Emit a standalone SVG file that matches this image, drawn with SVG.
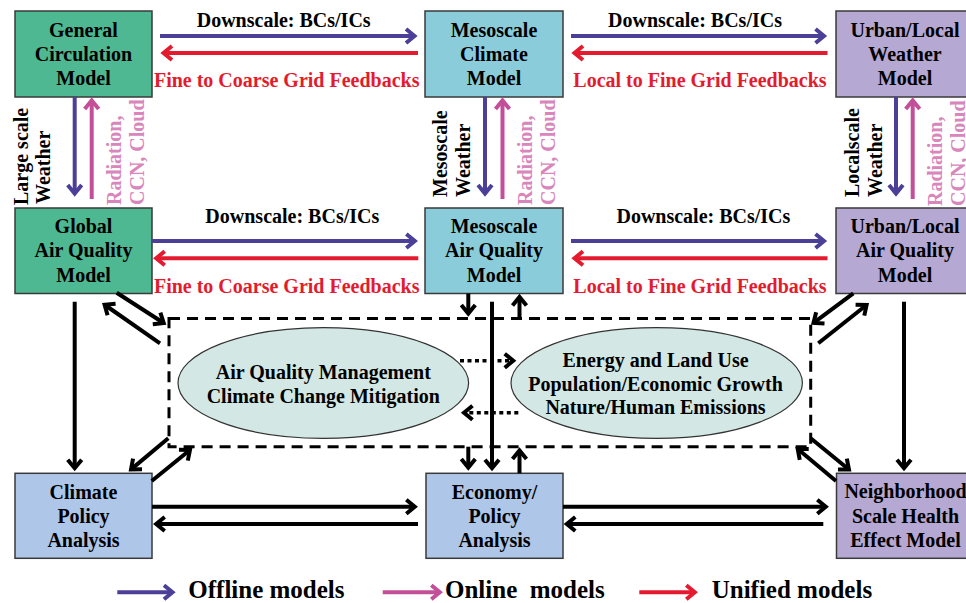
<svg xmlns="http://www.w3.org/2000/svg" width="966" height="603" viewBox="0 0 966 603">
<style>
text{font-family:"Liberation Serif","Times New Roman",serif;font-weight:bold;font-size:20px;}
.box{stroke:#3a3a3a;stroke-width:1.5;}
.green{fill:#4DB891;}
.cyan{fill:#8BCCDB;}
.purple{fill:#B5A8D2;}
.lblue{fill:#AEC6E8;}
.ell{fill:#D3E8E4;stroke:#333;stroke-width:1.2;}
.c{text-anchor:middle;}
.red{fill:#E41B2E;}
.pinkt{fill:#D886BC;}
.ln{fill:none;stroke-width:4;}
.b{stroke:#4B3F98;}
.r{stroke:#E41B2E;}
.p{stroke:#C24F98;}
.k{stroke:#000;}
.dot{stroke-dasharray:4 3.5;stroke-width:3.5;}
.leg{font-size:25px;white-space:pre;}
</style>
<defs>
<marker id="mb" viewBox="-16 -10 20 20" markerWidth="20" markerHeight="20" markerUnits="userSpaceOnUse" refX="-4" refY="0" orient="auto"><path d="M-12,-7 L-3.5,0 L-12,7" fill="none" stroke="#4B3F98" stroke-width="4"/></marker>
<marker id="mr" viewBox="-16 -10 20 20" markerWidth="20" markerHeight="20" markerUnits="userSpaceOnUse" refX="-4" refY="0" orient="auto"><path d="M-12,-7 L-3.5,0 L-12,7" fill="none" stroke="#E41B2E" stroke-width="4"/></marker>
<marker id="mp" viewBox="-16 -10 20 20" markerWidth="20" markerHeight="20" markerUnits="userSpaceOnUse" refX="-4" refY="0" orient="auto"><path d="M-12,-7 L-3.5,0 L-12,7" fill="none" stroke="#C24F98" stroke-width="4"/></marker>
<marker id="mk" viewBox="-16 -10 20 20" markerWidth="20" markerHeight="20" markerUnits="userSpaceOnUse" refX="-4" refY="0" orient="auto"><path d="M-12,-7 L-3.5,0 L-12,7" fill="none" stroke="#000" stroke-width="4"/></marker>
</defs>

<g id="policy-frame">
<rect x="169" y="318.5" width="641.7" height="128.2" fill="none" stroke="#000" stroke-width="3" stroke-dasharray="11 7"/>
</g>

<g id="gcm">
<rect class="box green" x="15" y="11" width="137" height="86"/>
<text class="c" x="83.5" y="37.3">General</text>
<text class="c" x="83.5" y="61.3">Circulation</text>
<text class="c" x="83.5" y="85.3">Model</text>
</g>
<g id="mcm">
<rect class="box cyan" x="425" y="11" width="138" height="86"/>
<text class="c" x="494" y="37.3">Mesoscale</text>
<text class="c" x="494" y="61.3">Climate</text>
<text class="c" x="494" y="85.3">Model</text>
</g>
<g id="ulwm">
<rect class="box purple" x="836" y="11" width="138" height="86"/>
<text class="c" x="905" y="37.3">Urban/Local</text>
<text class="c" x="905" y="61.3">Weather</text>
<text class="c" x="905" y="85.3">Model</text>
</g>
<g id="gaqm">
<rect class="box green" x="15" y="208" width="137" height="85.5"/>
<text class="c" x="83.5" y="233.3">Global</text>
<text class="c" x="83.5" y="257.3">Air Quality</text>
<text class="c" x="83.5" y="281.5">Model</text>
</g>
<g id="maqm">
<rect class="box cyan" x="425" y="208" width="138" height="85.5"/>
<text class="c" x="494" y="233.3">Mesoscale</text>
<text class="c" x="494" y="257.3">Air Quality</text>
<text class="c" x="494" y="281.5">Model</text>
</g>
<g id="ulaqm">
<rect class="box purple" x="836" y="208" width="138" height="85.5"/>
<text class="c" x="905" y="233.3">Urban/Local</text>
<text class="c" x="905" y="257.3">Air Quality</text>
<text class="c" x="905" y="281.5">Model</text>
</g>
<g id="cpa">
<rect class="box lblue" x="15" y="473.3" width="137" height="85"/>
<text class="c" x="83.5" y="499">Climate</text>
<text class="c" x="83.5" y="523.3">Policy</text>
<text class="c" x="83.5" y="547.3">Analysis</text>
</g>
<g id="epa">
<rect class="box lblue" x="426" y="473.3" width="137" height="85"/>
<text class="c" x="494.5" y="499">Economy/</text>
<text class="c" x="494.5" y="523.3">Policy</text>
<text class="c" x="494.5" y="547.3">Analysis</text>
</g>
<g id="nshem">
<rect class="box purple" x="836.5" y="473.3" width="138" height="85"/>
<text class="c" x="905.5" y="498.3">Neighborhood</text>
<text class="c" x="905.5" y="523.3">Scale Health</text>
<text class="c" x="905.5" y="547.3">Effect Model</text>
</g>
<g id="aqm-ccm">
<ellipse class="ell" cx="323.3" cy="383" rx="145.3" ry="55.3"/>
<text class="c" x="323.3" y="379">Air Quality Management</text>
<text class="c" x="323.3" y="402.7">Climate Change Mitigation</text>
</g>
<g id="drivers">
<ellipse class="ell" cx="656.7" cy="383" rx="145.7" ry="55.3"/>
<text class="c" x="655.5" y="367.3">Energy and Land Use</text>
<text class="c" x="655.5" y="390.7">Population/Economic Growth</text>
<text class="c" x="655.5" y="414.3">Nature/Human Emissions</text>
</g>

<g id="connectors">
<path class="ln b" d="M160,36 H414" marker-end="url(#mb)"/>
<path class="ln r" d="M418,53 H164" marker-end="url(#mr)"/>
<path class="ln b" d="M571,36 H823.5" marker-end="url(#mb)"/>
<path class="ln r" d="M827.5,53 H575" marker-end="url(#mr)"/>
<path class="ln b" d="M152,241 H414.3" marker-end="url(#mb)"/>
<path class="ln r" d="M418.3,258.3 H156.7" marker-end="url(#mr)"/>
<path class="ln b" d="M571,241 H823.5" marker-end="url(#mb)"/>
<path class="ln r" d="M827.5,258.3 H575" marker-end="url(#mr)"/>
<path class="ln b" d="M74.7,97 V193" marker-end="url(#mb)"/>
<path class="ln p" d="M91.7,199 V101" marker-end="url(#mp)"/>
<path class="ln b" d="M485,97 V193" marker-end="url(#mb)"/>
<path class="ln p" d="M502.5,199 V101" marker-end="url(#mp)"/>
<path class="ln b" d="M896,97 V193" marker-end="url(#mb)"/>
<path class="ln p" d="M912.7,199 V101" marker-end="url(#mp)"/>

<path class="ln k" d="M74.7,301.7 V467.7" marker-end="url(#mk)"/>
<path class="ln k" d="M116.7,292.7 L163.3,322.8" marker-end="url(#mk)"/>
<path class="ln k" d="M160,343.3 L105,305" marker-end="url(#mk)"/>
<path class="ln k" d="M168.3,438.3 L131.4,469.1" marker-end="url(#mk)"/>
<path class="ln k" d="M151.7,481 L189.6,450.2" marker-end="url(#mk)"/>
<path class="ln k" d="M152,506.7 H414.3" marker-end="url(#mk)"/>
<path class="ln k" d="M418,524 H156.7" marker-end="url(#mk)"/>

<path class="ln k" d="M468.3,293.5 V313" marker-end="url(#mk)"/>
<path class="ln k" d="M492,301.7 V467.7" marker-end="url(#mk)"/>
<path class="ln k" d="M519.5,318.5 V297.5" marker-end="url(#mk)"/>
<path class="ln k" d="M468.3,446.7 V467" marker-end="url(#mk)"/>
<path class="ln k" d="M519.5,473.3 V451" marker-end="url(#mk)"/>
<path class="ln k dot" d="M460,360.7 H512.7" marker-end="url(#mk)"/>
<path class="ln k dot" d="M518.3,412.7 H464.5" marker-end="url(#mk)"/>

<path class="ln k" d="M563,506.7 H825.3" marker-end="url(#mk)"/>
<path class="ln k" d="M823.3,524 H567.3" marker-end="url(#mk)"/>
<path class="ln k" d="M853.3,293.3 L813.9,322.6" marker-end="url(#mk)"/>
<path class="ln k" d="M818.3,343.3 L866.2,305.2" marker-end="url(#mk)"/>
<path class="ln k" d="M904,301.7 V467.7" marker-end="url(#mk)"/>
<path class="ln k" d="M810.7,438.3 L848.6,469.2" marker-end="url(#mk)"/>
<path class="ln k" d="M836,481 L798.1,449.3" marker-end="url(#mk)"/>
</g>

<g id="labels">
<text class="c" x="283.7" y="26.7">Downscale: BCs/ICs</text>
<text class="c" x="695" y="26.7">Downscale: BCs/ICs</text>
<text class="c" x="292.3" y="223.3">Downscale: BCs/ICs</text>
<text class="c" x="703.4" y="223.3">Downscale: BCs/ICs</text>
<text class="c red" x="286.7" y="87.3">Fine to Coarse Grid Feedbacks</text>
<text class="c red" x="286.7" y="292.7">Fine to Coarse Grid Feedbacks</text>
<text class="c red" x="700" y="87.3">Local to Fine Grid Feedbacks</text>
<text class="c red" x="700" y="292.7">Local to Fine Grid Feedbacks</text>

<text transform="translate(28.2,205) rotate(-90)">Large scale</text>
<text transform="translate(50,204) rotate(-90)">Weather</text>
<text class="pinkt" transform="translate(121,205) rotate(-90)">Radiation,</text>
<text class="pinkt" transform="translate(143.5,205) rotate(-90)">CCN, Cloud</text>

<text transform="translate(446.5,197) rotate(-90)">Mesoscale</text>
<text transform="translate(469.5,197) rotate(-90)">Weather</text>
<text class="pinkt" transform="translate(531.5,205) rotate(-90)">Radiation,</text>
<text class="pinkt" transform="translate(555,205) rotate(-90)">CCN, Cloud</text>

<text transform="translate(858.5,197) rotate(-90)">Localscale</text>
<text transform="translate(881.5,197) rotate(-90)">Weather</text>
<text class="pinkt" transform="translate(941.5,206) rotate(-90)">Radiation,</text>
<text class="pinkt" transform="translate(965,206) rotate(-90)">CCN, Cloud</text>
</g>

<g id="legend">
<path class="ln b" d="M117.3,592.3 H172" marker-end="url(#mb)"/>
<text class="leg" x="188.3" y="598">Offline models</text>
<path class="ln p" d="M382.7,592.3 H439.3" marker-end="url(#mp)"/>
<text class="leg" x="445" y="598">Online  models</text>
<path class="ln r" d="M639.3,592.3 H694.3" marker-end="url(#mr)"/>
<text class="leg" x="711.7" y="598">Unified models</text>
</g>
</svg>
